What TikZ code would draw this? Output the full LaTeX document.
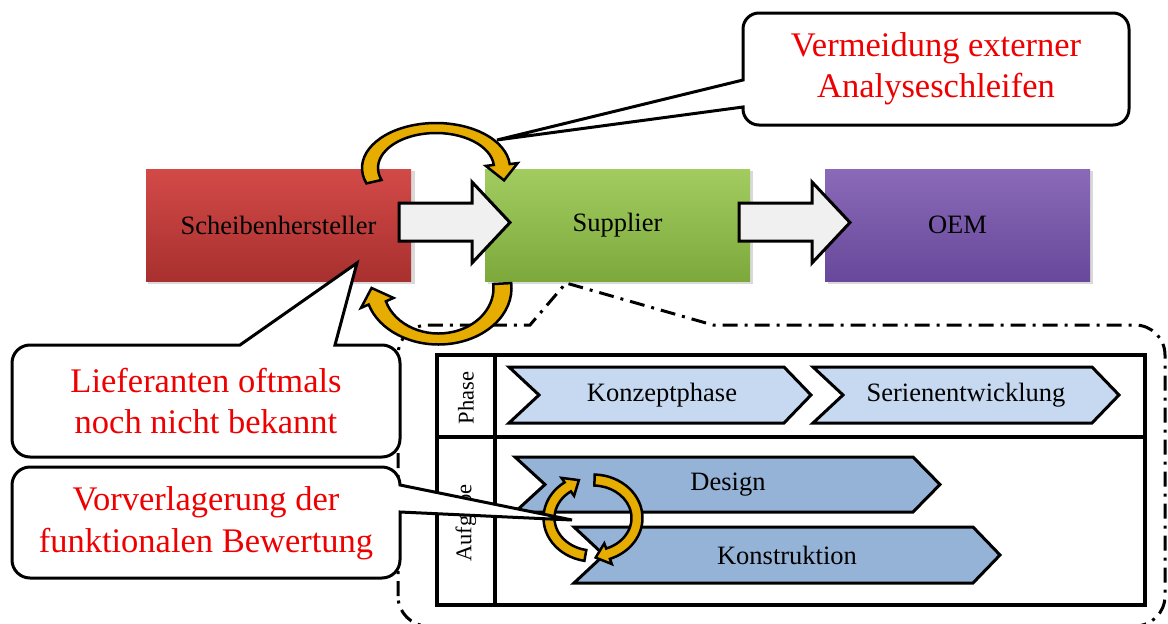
\documentclass[tikz,border=0pt]{standalone}
\usepackage{fontspec}
\setmainfont{Liberation Serif}
\definecolor{redT}{HTML}{D24A48}
\definecolor{redB}{HTML}{A8302E}
\definecolor{grnT}{HTML}{A2CC60}
\definecolor{grnB}{HTML}{7DA93C}
\definecolor{purT}{HTML}{8A6AB8}
\definecolor{purB}{HTML}{67489A}
\definecolor{phaseblue}{HTML}{C6D9F1}
\definecolor{taskblue}{HTML}{95B3D7}
\definecolor{gold}{HTML}{E6AC00}
\definecolor{arrowgray}{HTML}{F0F0F0}
\definecolor{calltext}{HTML}{EE0000}
\def\hwyv{5}
% #1 cx #2 cy #3 rx #4 ry #5 t0 #6 t1 #7 half width (x) #8 wing half width #9 head length; \hwyv = half width (y)
\newcommand{\bandarrow}[9]{%
 \pgfmathsetmacro\rxo{#3+#7}\pgfmathsetmacro\ryo{#4+\hwyv}%
 \pgfmathsetmacro\rxi{#3-#7}\pgfmathsetmacro\ryi{#4-\hwyv}%
 \pgfmathsetmacro\sx{#1+\rxo*cos(#5)}\pgfmathsetmacro\sy{#2+\ryo*sin(#5)}%
 \pgfmathsetmacro\wax{#1+(#3+#8)*cos(#6)}\pgfmathsetmacro\way{#2+(#4+#8)*sin(#6)}%
 \pgfmathsetmacro\wbx{#1+(#3-#8)*cos(#6)}\pgfmathsetmacro\wby{#2+(#4-#8)*sin(#6)}%
 \pgfmathsetmacro\ix{#1+\rxi*cos(#6)}\pgfmathsetmacro\iy{#2+\ryi*sin(#6)}%
 \pgfmathsetmacro\sgnv{ifthenelse(#6>#5,1,-1)}%
 \pgfmathsetmacro\ddx{-#3*sin(#6)*\sgnv}\pgfmathsetmacro\ddy{#4*cos(#6)*\sgnv}%
 \pgfmathsetmacro\ddn{sqrt(\ddx*\ddx+\ddy*\ddy)}%
 \pgfmathsetmacro\tipx{#1+#3*cos(#6)+#9*\ddx/\ddn}%
 \pgfmathsetmacro\tipy{#2+#4*sin(#6)+#9*\ddy/\ddn}%
 \draw[yarrow] (\sx,\sy) arc[start angle=#5,end angle=#6,x radius=\rxo,y radius=\ryo]
   -- (\wax,\way) -- (\tipx,\tipy) -- (\wbx,\wby)
   -- (\ix,\iy) arc[start angle=#6,end angle=#5,x radius=\rxi,y radius=\ryi] -- cycle;
}
\newcommand{\chevronshape}[5]{%
 \draw[#1] (#2,#4) -- ({#3-27},#4) -- (#3,{(#4+#5)/2}) -- ({#3-27},#5) -- (#2,#5) -- ({#2+30},{(#4+#5)/2}) -- cycle;}
\begin{document}
\begin{tikzpicture}[x=1pt,y=-1pt,
  box/.style={minimum width=265pt, minimum height=112pt, inner sep=0pt, font=\fontsize{26.5}{32}\selectfont},
  boxshadow/.style={fill=black, opacity=0.15},
  blockarrow/.style={draw=black, line width=3pt, fill=arrowgray},
  yarrow/.style={draw=black, line width=2.5pt, fill=gold},
  callout/.style={draw=black, line width=3pt, fill=white},
  calltxt/.style={text=calltext, align=center, font=\fontsize{34.5}{41.5}\selectfont},
  chevphase/.style={draw=black, line width=3pt, fill=phaseblue},
  chevtask/.style={draw=black, line width=3pt, fill=taskblue},
  chevtxt/.style={font=\fontsize{26.5}{32}\selectfont},
  tbl/.style={draw=black, line width=3.5pt},
  region/.style={draw=black, line width=3pt, dash pattern=on 15pt off 7pt on 3pt off 7pt},
  sidetxt/.style={rotate=90, font=\fontsize{22.5}{27}\selectfont}]
\useasboundingbox (0,0) rectangle (1168,624);
\clip (0,0) rectangle (1168,624);

% boxes
\fill[boxshadow] (148,171) rectangle (415,284);
\fill[boxshadow] (488,171) rectangle (753,284);
\fill[boxshadow] (828,171) rectangle (1093,284);
\node[box, top color=redT, bottom color=redB] (sh) at (278.5,225) {Scheibenhersteller};
\node[box, top color=grnT, bottom color=grnB] (sup) at (617.5,225) {Supplier};
\node[box, top color=purT, bottom color=purB] (oem) at (957.5,225) {OEM};

% block arrows
\draw[blockarrow] (399,203) -- (472,203) -- (472,182) -- (510,222.5) -- (472,263) -- (472,241) -- (399,241) -- cycle;
\draw[blockarrow] (739,203) -- (812,203) -- (812,182) -- (850,222.5) -- (812,263) -- (812,241) -- (739,241) -- cycle;

% dash-dot region
\draw[region] (398,596) -- (398,355) arc[start angle=180,end angle=270,radius=30] -- (530,325) -- (566,283) -- (713,325) -- (1135,325) arc[start angle=270,end angle=360,radius=30] -- (1165,596) arc[start angle=0,end angle=90,radius=30] -- (428,626) arc[start angle=90,end angle=180,radius=30] -- cycle;

% table
\draw[tbl] (437,355) rectangle (1145,605);
\draw[tbl] (495,355) -- (495,605);
\draw[tbl] (437,437) -- (1145,437);
\node[sidetxt] (ph) at (466,398) {Phase};
\node[sidetxt] (au) at (466,523) {Aufgabe};

% chevrons
\chevronshape{chevphase}{509}{811}{367}{423}
\chevronshape{chevphase}{813}{1119}{367}{423}
\chevronshape{chevtask}{515}{940}{457}{512}
\chevronshape{chevtask}{574}{1000}{527}{583}
\node[chevtxt] (k1) at (662,395) {Konzeptphase};
\node[chevtxt] (k2) at (966,395) {Serienentwicklung};
\node[chevtxt] (k3) at (728,484.5) {Design};
\node[chevtxt] (k4) at (787,555) {Konstruktion};

% circular arrows
\def\hwyv{5.5}
\bandarrow{593}{518}{44}{38}{100}{235}{5.5}{11}{13}
\bandarrow{593}{518}{44}{38}{272}{430}{5.5}{11}{13}

% big curved arrows
\def\hwyv{5}
\bandarrow{436}{168}{66}{40}{160}{355}{8}{16}{16}
\def\hwyv{5.5}
\bandarrow{438.5}{288}{64}{51}{-5}{163}{9}{17}{16}

% callouts
\draw[callout] (743,80) -- (743,29) arc[start angle=180,end angle=270,radius=16] -- (1113,13) arc[start angle=270,end angle=360,radius=16] -- (1129,109) arc[start angle=0,end angle=90,radius=16] -- (759,125) arc[start angle=90,end angle=180,radius=16] -- (743,107) -- (497,140) -- cycle;
\node[calltxt] (c1) at (936,69) {Vermeidung externer\\Analyseschleifen};

\draw[callout] (12,363) arc[start angle=180,end angle=270,radius=18] -- (240,345) -- (357,263) -- (335,345) -- (382,345) arc[start angle=270,end angle=360,radius=18] -- (400,439) arc[start angle=0,end angle=90,radius=18] -- (30,457) arc[start angle=90,end angle=180,radius=18] -- cycle;
\node[calltxt] (c2) at (206,401) {Lieferanten oftmals\\noch nicht bekannt};

\draw[callout] (12,485) arc[start angle=180,end angle=270,radius=18] -- (382,467) arc[start angle=270,end angle=360,radius=18] -- (572,520) -- (400,512) -- (400,560) arc[start angle=0,end angle=90,radius=18] -- (30,578) arc[start angle=90,end angle=180,radius=18] -- cycle;
\node[calltxt] (c3) at (206,523) {Vorverlagerung der\\funktionalen Bewertung};
\end{tikzpicture}
\end{document}
